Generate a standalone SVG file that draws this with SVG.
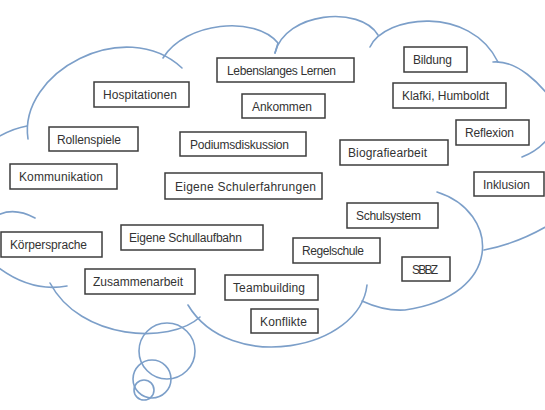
<svg xmlns="http://www.w3.org/2000/svg" width="545" height="410" viewBox="0 0 545 410">
<style>
.c{fill:none;stroke:#7c9fc9;stroke-width:1.6;stroke-linecap:round}
.b{fill:#ffffff;stroke:#3c3c3c;stroke-width:1.5}
.t{font-family:"Liberation Sans",Arial,sans-serif;font-size:12px;fill:#333333}
</style>
<rect x="0" y="0" width="545" height="410" fill="#ffffff"/>
<g id="cloud">
<path class="c" d="M-10,142 C5,132 15,128 27,126"/>
<path class="c" d="M28,139 C18,72 125,15 182,68"/>
<path class="c" d="M163,58 C185,22 255,15 278,43 L275,53"/>
<path class="c" d="M275,53 C285,12 360,5 378,35"/>
<path class="c" d="M370,47 C385,15 470,5 498,62"/>
<path class="c" d="M493,62 C515,60 540,80 560,112"/>
<path class="c" d="M560,115 C555,135 540,150 522,157"/>
<path class="c" d="M437,192 C500,212 505,295 405,310 C390,311 375,307 362,301"/>
<path class="c" d="M484,250 C505,246 530,238 560,218"/>
<path class="c" d="M367,285 C360,350 230,375 188,305"/>
<path class="c" d="M50,283 C80,340 170,345 200,317"/>
<path class="c" d="M-5,265 C20,285 45,290 67,286"/>
<path class="c" d="M-10,220 C5,208 20,210 35,218"/>
<circle class="c" cx="167" cy="351" r="28"/>
<circle class="c" cx="152" cy="379" r="19"/>
<circle class="c" cx="144" cy="390" r="10"/>
</g>
<g id="connectors"/>
<g id="n-lebenslanges"><rect class="b" x="217" y="58" width="137" height="24"/><text class="t" x="227" y="74.5" textLength="109">Lebenslanges Lernen</text></g>
<g id="n-bildung"><rect class="b" x="404" y="47" width="63" height="25"/><text class="t" x="413" y="64" textLength="39">Bildung</text></g>
<g id="n-hospitationen"><rect class="b" x="94" y="82" width="95" height="25"/><text class="t" x="103" y="99" textLength="74">Hospitationen</text></g>
<g id="n-ankommen"><rect class="b" x="242" y="94" width="83" height="24"/><text class="t" x="252" y="110.5" textLength="60">Ankommen</text></g>
<g id="n-klafki"><rect class="b" x="393" y="83" width="113" height="25"/><text class="t" x="402" y="100" textLength="87">Klafki, Humboldt</text></g>
<g id="n-rollenspiele"><rect class="b" x="49" y="127" width="89" height="24"/><text class="t" x="57" y="143.5" textLength="64">Rollenspiele</text></g>
<g id="n-podiumsdiskussion"><rect class="b" x="180" y="132" width="126" height="24"/><text class="t" x="190" y="148.5" textLength="99">Podiumsdiskussion</text></g>
<g id="n-reflexion"><rect class="b" x="456" y="120" width="73" height="25"/><text class="t" x="465" y="137" textLength="49">Reflexion</text></g>
<g id="n-biografiearbeit"><rect class="b" x="340" y="140" width="108" height="25"/><text class="t" x="348" y="157" textLength="79">Biografiearbeit</text></g>
<g id="n-kommunikation"><rect class="b" x="10" y="164" width="107" height="25"/><text class="t" x="19" y="181" textLength="84">Kommunikation</text></g>
<g id="n-schulerfahrungen"><rect class="b" x="165" y="173" width="157" height="26"/><text class="t" x="175" y="190.5" textLength="141">Eigene Schulerfahrungen</text></g>
<g id="n-inklusion"><rect class="b" x="474" y="172" width="70" height="24"/><text class="t" x="483" y="188.5" textLength="47">Inklusion</text></g>
<g id="n-schulsystem"><rect class="b" x="347" y="203" width="91" height="25"/><text class="t" x="356" y="220" textLength="65">Schulsystem</text></g>
<g id="n-schullaufbahn"><rect class="b" x="121" y="225" width="142" height="25"/><text class="t" x="129" y="242" textLength="113">Eigene Schullaufbahn</text></g>
<g id="n-koerpersprache"><rect class="b" x="1" y="232" width="101" height="25"/><text class="t" x="10" y="249" textLength="77">Körpersprache</text></g>
<g id="n-regelschule"><rect class="b" x="293" y="238" width="87" height="25"/><text class="t" x="302" y="255" textLength="62">Regelschule</text></g>
<g id="n-sbbz"><rect class="b" x="402" y="257" width="48" height="24"/><text class="t" x="412" y="273.5" textLength="26">SBBZ</text></g>
<g id="n-zusammenarbeit"><rect class="b" x="85" y="269" width="110" height="25"/><text class="t" x="93" y="286" textLength="90">Zusammenarbeit</text></g>
<g id="n-teambuilding"><rect class="b" x="225" y="275" width="93" height="25"/><text class="t" x="233" y="292" textLength="72">Teambuilding</text></g>
<g id="n-konflikte"><rect class="b" x="251" y="309" width="67" height="24"/><text class="t" x="260" y="325.5" textLength="47">Konflikte</text></g>
</svg>
